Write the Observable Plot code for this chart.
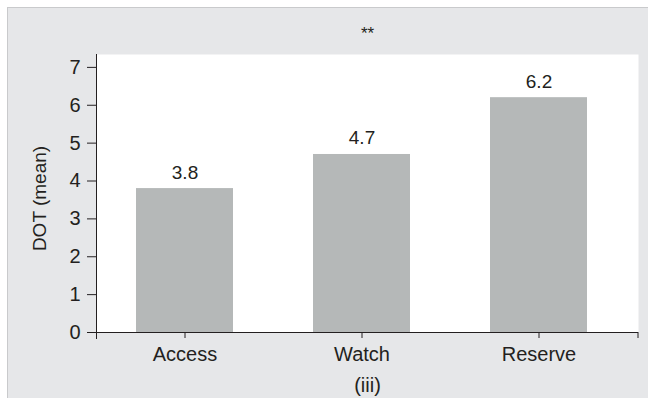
<!DOCTYPE html>
<html>
<head>
<meta charset="utf-8">
<script src="https://cdn.jsdelivr.net/npm/d3@7"></script>
<script src="https://cdn.jsdelivr.net/npm/@observablehq/plot@0.6"></script>
<style>
  html, body { margin: 0; padding: 0; background: #ffffff; }
  #panel {
    position: absolute; left: 7px; top: 7px; width: 641px; height: 391px;
    background: #e6e7e9; border-left: 1px solid #c9cacc; border-top: 1px solid #c9cacc;
    box-sizing: border-box;
  }
  #chart { position: absolute; left: 0; top: 0; }
</style>
</head>
<body>
<div id="panel"></div>
<div id="chart"></div>
<script>
// Mean days of therapy per antibiotic group
const categories = ["Access", "Watch", "Reserve"];
const means = [3.8, 4.7, 6.2];
const yTicks = [0, 1, 2, 3, 4, 5, 6, 7];
const significance = "**";
const panelLabel = "(iii)";
const yLabel = "DOT (mean)";

const rows = categories.map((category, i) => ({category, mean: means[i]}));

const ink = "#231f20";
const font = "'Liberation Sans', Arial, Helvetica, sans-serif";

const chart = Plot.plot({
  width: 648,
  height: 398,
  marginTop: 54,
  marginBottom: 66,
  marginLeft: 96,
  marginRight: 10,
  style: {fontFamily: font, fontSize: "20px", color: ink, background: "transparent", overflow: "visible"},
  x: {domain: categories, paddingInner: 0.45, paddingOuter: 0.25, align: 0.44, axis: null},
  y: {domain: [0, 7.34], axis: null},
  marks: [
    Plot.frame({fill: "white", stroke: null}),
    Plot.barY(rows, {x: "category", y: "mean", fill: "#b5b8b8"}),
    Plot.text(rows, {x: "category", y: "mean", text: d => d.mean.toFixed(1), lineAnchor: "bottom", dy: -10, fontSize: 19, fill: ink}),
    Plot.axisY({ticks: yTicks, tickSize: 9, tickPadding: 7, label: null, fontSize: 20, stroke: ink}),
    Plot.axisX(categories, {tickSize: 6, tickPadding: 8, label: null, fontSize: 20, stroke: ink}),
    Plot.frame({anchor: "left", stroke: ink, insetBottom: -6}),
    Plot.ruleY([0], {stroke: ink}),
    Plot.text([significance], {frameAnchor: "top", dy: -28, fontSize: 17, fill: ink}),
    Plot.text([panelLabel], {frameAnchor: "bottom", dy: 59, fontSize: 20, fill: ink}),
    Plot.text([yLabel], {frameAnchor: "left", textAnchor: "middle", dx: -57, dy: 5, rotate: -90, fontSize: 19, fill: ink})
  ]
});

// Right end tick of the category axis, placed from the scales
const xr = chart.scale("x").range;
const y0 = chart.scale("y").apply(0);
d3.select(chart).append("line")
  .attr("x1", xr[1]).attr("x2", xr[1])
  .attr("y1", y0).attr("y2", y0 + 6)
  .attr("stroke", ink);

document.getElementById("chart").appendChild(chart);
</script>
</body>
</html>
